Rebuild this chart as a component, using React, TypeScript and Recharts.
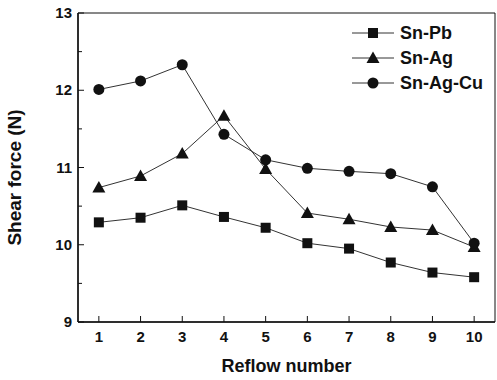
import { LineChart, Line, XAxis, YAxis, ReferenceArea } from "recharts";

const reflow = [1, 2, 3, 4, 5, 6, 7, 8, 9, 10];
const snPb = [10.29, 10.35, 10.51, 10.36, 10.22, 10.02, 9.95, 9.77, 9.64, 9.58];
const snAg = [10.74, 10.89, 11.18, 11.67, 10.98, 10.41, 10.33, 10.23, 10.19, 9.97];
const snAgCu = [12.01, 12.12, 12.33, 11.43, 11.1, 10.99, 10.95, 10.92, 10.75, 10.02];
const yTicks = [9, 9.5, 10, 10.5, 11, 11.5, 12, 12.5, 13];

const data = reflow.map((r, i) => ({
  reflow: r,
  snPb: snPb[i],
  snAg: snAg[i],
  snAgCu: snAgCu[i],
}));

const FONT = "'Liberation Sans', Arial, sans-serif";
const INK = "#111";

type Shape = "square" | "triangle" | "circle";

function Marker({ cx, cy, shape }: { cx: number; cy: number; shape: Shape }) {
  if (cx == null || cy == null) return null;
  if (shape === "square") {
    return <rect x={cx - 5} y={cy - 5} width={10} height={10} fill={INK} />;
  }
  if (shape === "triangle") {
    return (
      <polygon
        points={`${cx},${cy - 6.5} ${cx + 6.5},${cy + 5} ${cx - 6.5},${cy + 5}`}
        fill={INK}
      />
    );
  }
  return <circle cx={cx} cy={cy} r={5.5} fill={INK} />;
}

// x ticks point inward, label below
function XTick(props: any) {
  const { x, y, payload } = props;
  return (
    <g>
      <line x1={x} y1={y} x2={x} y2={y - 6} stroke={INK} strokeWidth={1} />
      <text
        x={x}
        y={y + 20}
        textAnchor="middle"
        fontFamily={FONT}
        fontWeight="bold"
        fontSize={15}
        fill={INK}
      >
        {payload.value}
      </text>
    </g>
  );
}

function YTick(props: any) {
  const { x, y, payload } = props;
  const major = Number.isInteger(payload.value);
  return (
    <g>
      <line x1={x} y1={y} x2={x + (major ? 6 : 4)} y2={y} stroke={INK} strokeWidth={1} />
      {major && (
        <text
          x={x - 6}
          y={y + 5}
          textAnchor="end"
          fontFamily={FONT}
          fontWeight="bold"
          fontSize={15}
          fill={INK}
        >
          {payload.value}
        </text>
      )}
    </g>
  );
}

const legendItems: { label: string; shape: Shape }[] = [
  { label: "Sn-Pb", shape: "square" },
  { label: "Sn-Ag", shape: "triangle" },
  { label: "Sn-Ag-Cu", shape: "circle" },
];

function LegendBox() {
  return (
    <svg
      width={140}
      height={80}
      style={{ position: "absolute", left: 350, top: 21 }}
    >
      {legendItems.map((it, i) => {
        const y = 12 + i * 25;
        return (
          <g key={it.label}>
            <line x1={2} y1={y} x2={44} y2={y} stroke="#333" strokeWidth={1} />
            <Marker cx={23} cy={y} shape={it.shape} />
            <text
              x={50}
              y={y + 6}
              fontFamily={FONT}
              fontWeight="bold"
              fontSize={18}
              fill={INK}
            >
              {it.label}
            </text>
          </g>
        );
      })}
    </svg>
  );
}

export default function App() {
  return (
    <div style={{ position: "absolute", left: 0, top: 0, width: 497, height: 380, background: "#fff" }}>
      <LineChart
        width={497}
        height={380}
        data={data}
        margin={{ top: 13, right: 2, left: 0, bottom: 0 }}
      >
        <XAxis
          dataKey="reflow"
          type="number"
          domain={[0.5, 10.5]}
          ticks={reflow}
          height={58}
          tickSize={0}
          tickMargin={0}
          tickLine={false}
          tick={<XTick />}
          axisLine={{ stroke: INK, strokeWidth: 1.5 }}
          label={{
            value: "Reflow number",
            position: "insideBottom",
            offset: 8,
            fontFamily: FONT,
            fontWeight: "bold",
            fontSize: 18,
            fill: INK,
          }}
        />
        <YAxis
          type="number"
          domain={[9, 13]}
          ticks={yTicks}
          width={78}
          tickSize={0}
          tickMargin={0}
          tickLine={false}
          tick={<YTick />}
          axisLine={{ stroke: INK, strokeWidth: 1.5 }}
          label={{
            value: "Shear force (N)",
            angle: -90,
            position: "insideLeft",
            offset: 0,
            dx: 14,
            dy: 10,
            style: { textAnchor: "middle" },
            fontFamily: FONT,
            fontWeight: "bold",
            fontSize: 19,
            fill: INK,
          }}
        />
        <ReferenceArea
          x1={0.5}
          x2={10.5}
          y1={9}
          y2={13}
          fill="none"
          stroke={INK}
          strokeWidth={1}
        />
        <Line
          dataKey="snPb"
          stroke="#333"
          strokeWidth={1}
          isAnimationActive={false}
          dot={(p: any) => <Marker key={p.index} cx={p.cx} cy={p.cy} shape="square" />}
        />
        <Line
          dataKey="snAg"
          stroke="#333"
          strokeWidth={1}
          isAnimationActive={false}
          dot={(p: any) => <Marker key={p.index} cx={p.cx} cy={p.cy} shape="triangle" />}
        />
        <Line
          dataKey="snAgCu"
          stroke="#333"
          strokeWidth={1}
          isAnimationActive={false}
          dot={(p: any) => <Marker key={p.index} cx={p.cx} cy={p.cy} shape="circle" />}
        />
      </LineChart>
      <LegendBox />
    </div>
  );
}
